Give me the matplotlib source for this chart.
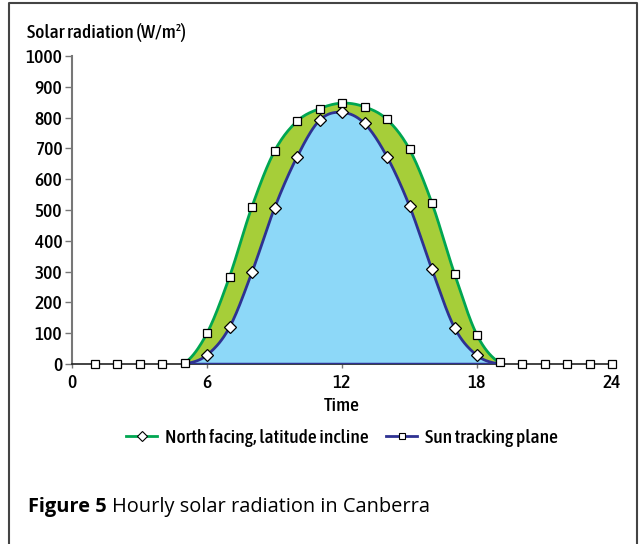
import numpy as np
import matplotlib
matplotlib.use("Agg")
import matplotlib.pyplot as plt
from matplotlib.lines import Line2D

# hourly values (W/m2)
hours = list(range(1, 25))
sun_tracking = [0, 0, 0, 0, 3, 100, 283, 511, 691, 788, 829, 847,
                835, 794, 697, 522, 293, 94, 5, 0, 0, 0, 0, 0]
north_hours = list(range(5, 20))
north_facing = [0, 29, 119, 298, 506, 672, 791, 817, 781, 673, 513,
                307, 118, 28, 0]

xticks = [0, 6, 12, 18, 24]
yticks = list(range(0, 1001, 100))

GREEN_FILL = "#a6ce39"
GREEN_LINE = "#00a651"
BLUE_FILL = "#8dd8f8"
BLUE_LINE = "#2e3192"

COND = dict(family=["Asap Condensed", "DejaVu Sans"], weight=500,
            fontsize=14)


def smooth(x, y, n=20):
    # Catmull-Rom curve through the points, like a spreadsheet "smoothed line"
    x = np.asarray(x, float)
    y = np.asarray(y, float)
    px = np.concatenate([[2 * x[0] - x[1]], x, [2 * x[-1] - x[-2]]])
    py = np.concatenate([[y[0]], y, [y[-1]]])
    xs, ys = [], []
    t = np.linspace(0, 1, n, endpoint=False)
    for i in range(1, len(px) - 2):
        for p, out in ((px, xs), (py, ys)):
            p0, p1, p2, p3 = p[i - 1], p[i], p[i + 1], p[i + 2]
            out.extend(0.5 * (2 * p1 + (-p0 + p2) * t
                              + (2 * p0 - 5 * p1 + 4 * p2 - p3) * t ** 2
                              + (-p0 + 3 * p1 - 3 * p2 + p3) * t ** 3))
    xs.append(x[-1])
    ys.append(y[-1])
    return np.array(xs), np.array(ys)


fig = plt.figure(figsize=(6.42, 5.44), dpi=100)
ax = fig.add_axes([72 / 642, 180 / 544, 540 / 642, 308 / 544])

# smooth curves for the hump part of each series
i0, i1 = hours.index(5), hours.index(19) + 1
ux, uy = smooth(hours[i0:i1], sun_tracking[i0:i1])
lx, ly = smooth(north_hours, north_facing)
ly_on_u = np.interp(ux, lx, ly)

ax.fill_between(ux, ly_on_u, uy, where=uy >= ly_on_u, color=GREEN_FILL,
                lw=0, zorder=1)
ax.fill_between(lx, 0, ly, color=BLUE_FILL, lw=0, zorder=2)
ax.plot(ux, uy, color=GREEN_LINE, lw=2, zorder=3)
ax.plot(lx, ly, color=BLUE_LINE, lw=2, zorder=3)
ax.plot([north_hours[0], north_hours[-1]], [0, 0], color=BLUE_LINE, lw=2.5,
        zorder=5, solid_capstyle="butt")

ax.plot(north_hours[1:-1], north_facing[1:-1], ls="none", marker="D", ms=5.8,
        mfc="white", mec="black", mew=0.9, zorder=6)
ax.plot(hours, sun_tracking, ls="none", marker="s", ms=6,
        mfc="white", mec="black", mew=0.9, zorder=7, clip_on=False)

ax.set_xlim(0, 24)
ax.set_ylim(0, 1000)
ax.set_xticks(xticks)
ax.set_yticks(yticks)
ax.set_xticklabels([str(v) for v in xticks], **COND)
ax.set_yticklabels([str(v) for v in yticks], **COND)
ax.tick_params(axis="y", direction="out", length=5, width=1, color="#777777",
               pad=2)
ax.tick_params(axis="x", direction="out", length=3, width=1, color="#777777",
               pad=4)
for s in ("top", "right"):
    ax.spines[s].set_visible(False)
ax.spines["left"].set_color("#777777")
ax.spines["left"].set_linewidth(1.5)
ax.spines["bottom"].set_color("#222222")
ax.spines["bottom"].set_linewidth(1.2)
ax.spines["bottom"].set_zorder(4)
ax.set_facecolor("none")

fig.text(27 / 642, 1 - 32 / 544, "Solar radiation (W/m²)", va="center",
         ha="left", **COND)
ax.set_xlabel("Time", labelpad=4, **COND)

handles = [
    Line2D([], [], color=GREEN_LINE, lw=2, marker="D", ms=5, mfc="white",
           mec="black", mew=0.8),
    Line2D([], [], color=BLUE_LINE, lw=2, marker="s", ms=5, mfc="white",
           mec="black", mew=0.8),
]
fig.legend(handles, ["North facing, latitude incline", "Sun tracking plane"],
           loc="center", bbox_to_anchor=(342 / 642, 1 - 438 / 544), ncol=2,
           frameon=False,
           prop={"family": "Asap Condensed", "weight": 500, "size": 14},
           handlelength=1.6, handletextpad=0.4, columnspacing=0.9)

fig.text(28 / 642, 1 - 507 / 544, "Figure 5", family="Open Sans",
         stretch="normal", weight="bold", fontsize=14.4, va="center",
         ha="left")
fig.text(112 / 642, 1 - 507 / 544, "Hourly solar radiation in Canberra",
         family="Open Sans", stretch="normal", fontsize=14.4, va="center",
         ha="left")

# outer frame (open at the bottom)
fig.add_artist(Line2D([9 / 642, 9 / 642, 637 / 642, 637 / 642],
                      [0, 1 - 3 / 544, 1 - 3 / 544, 0],
                      transform=fig.transFigure, color="#444444", lw=1.5))

fig.savefig("out.png", dpi=100)
